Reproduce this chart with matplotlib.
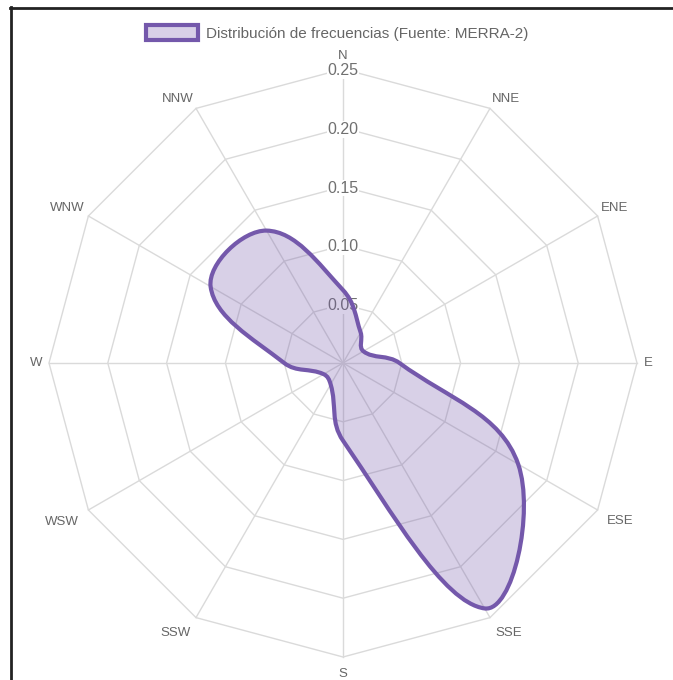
import numpy as np
import matplotlib.pyplot as plt
from matplotlib.path import Path
from matplotlib.patches import PathPatch, Patch
from matplotlib.lines import Line2D

directions = ['N', 'NNE', 'ENE', 'E', 'ESE', 'SSE', 'S', 'SSW', 'WSW', 'W', 'WNW', 'NNW']
frequencies = [0.062, 0.030, 0.020, 0.048, 0.172, 0.241, 0.066, 0.021, 0.019, 0.050, 0.130, 0.130]
ticks = [0.05, 0.10, 0.15, 0.20, 0.25]
series_label = 'Distribución de frecuencias (Fuente: MERRA-2)'

plt.rcParams['font.family'] = ['Liberation Sans', 'DejaVu Sans']

W, H = 673, 680
cx, cy, R = 343, 363, 294      # centre and outer radius in pixels
rmax = ticks[-1]
k = rmax / R                   # value units per pixel

line_color = '#7458ab'
fill_color = (0.455, 0.345, 0.67, 0.28)
grid_color = '#dadada'
text_color = '#666666'

fig = plt.figure(figsize=(W / 100, H / 100), dpi=100)
ax = fig.add_axes([0, 0, 1, 1])
ax.set_xlim(-cx * k, (W - cx) * k)
ax.set_ylim(-(H - cy) * k, cy * k)
ax.axis('off')

n = len(directions)
ang = np.arange(n) * 2 * np.pi / n
sx, sy = np.sin(ang), np.cos(ang)

# polygon grid and spokes
for t in ticks:
    ax.plot(np.append(sx, sx[0]) * t, np.append(sy, sy[0]) * t, color=grid_color, lw=1, zorder=1)
for a, b in zip(sx, sy):
    ax.plot([0, a * rmax], [0, b * rmax], color=grid_color, lw=1, zorder=1)

for t in ticks:
    ax.text(0, t - 1.5 * k, f'{t:.2f}', ha='center', va='center', fontsize=11.5, color='#707070',
            bbox=dict(boxstyle='square,pad=0.05', fc='white', ec='none'), zorder=2)

# direction labels, placed like chart.js does
for d, a, b in zip(directions, sx, sy):
    if abs(a) < 1e-6:
        ha = 'center'
    else:
        ha = 'left' if a > 0 else 'right'
    if abs(b) < 1e-6:
        va, pad = 'center', 7 * k
    elif b > 0:
        va, pad = 'bottom', (7 if abs(a) < 1e-6 else 4) * k
    else:
        va, pad = 'top', 11 * k
    ax.text(a * (rmax + pad), b * (rmax + pad), d, ha=ha, va=va, fontsize=9.5, color=text_color, zorder=3)

# smooth closed curve through the data points (chart.js spline)
vals = np.array(frequencies)
pts = np.column_stack([vals * sx, vals * sy])
tension = 0.4
c_in, c_out = [], []
for i in range(n):
    p0, p1, p2 = pts[i - 1], pts[i], pts[(i + 1) % n]
    d01 = np.hypot(*(p1 - p0))
    d12 = np.hypot(*(p2 - p1))
    s01 = d01 / (d01 + d12)
    s12 = d12 / (d01 + d12)
    c_in.append(p1 - tension * s01 * (p2 - p0))
    c_out.append(p1 + tension * s12 * (p2 - p0))

verts = [pts[0]]
codes = [Path.MOVETO]
for i in range(n):
    j = (i + 1) % n
    verts += [c_out[i], c_in[j], pts[j]]
    codes += [Path.CURVE4] * 3
path = Path(verts, codes)
ax.add_patch(PathPatch(path, facecolor=fill_color, edgecolor='none', zorder=3))
ax.add_patch(PathPatch(path, facecolor='none', edgecolor=line_color, lw=3, zorder=4))

# legend
handle = Patch(facecolor=fill_color, edgecolor=line_color, lw=3)
fs = 11
ax.legend([handle], [series_label], loc='center', bbox_to_anchor=(337 / W, 1 - 33 / H),
          frameon=False, fontsize=fs, labelcolor=text_color,
          handlelength=52 / (fs * 1.39), handleheight=17 / (fs * 1.39), handletextpad=0.5)

# frame edges visible in the screenshot
fig.add_artist(Line2D([10.5 / W, 10.5 / W], [0, 1 - 7 / H], transform=fig.transFigure, color='#222222', lw=2))
fig.add_artist(Line2D([10 / W, 1], [1 - 7.5 / H, 1 - 7.5 / H], transform=fig.transFigure, color='#222222', lw=2))

fig.savefig('out.png', dpi=100)
